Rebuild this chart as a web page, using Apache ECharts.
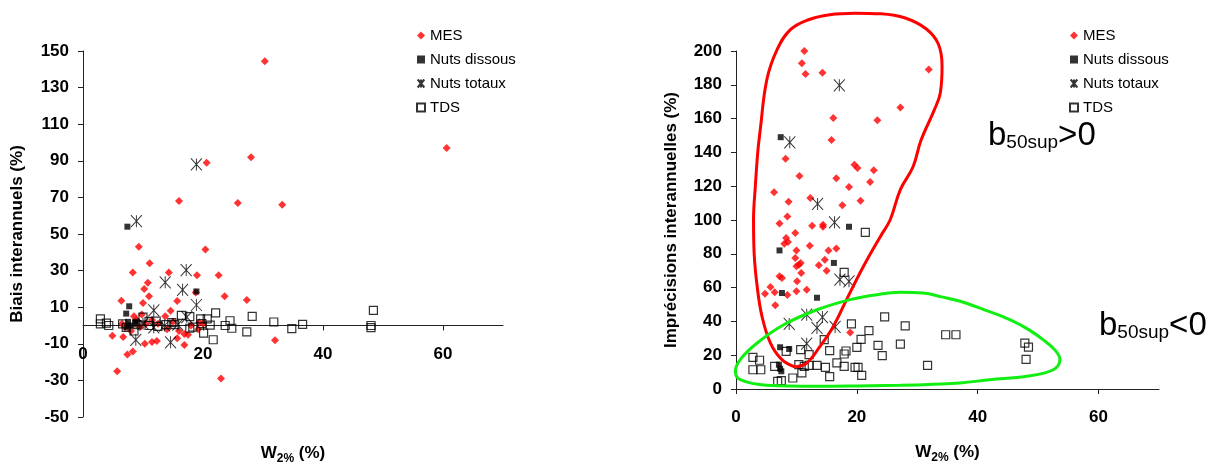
<!DOCTYPE html>
<html><head><meta charset="utf-8">
<script src="https://cdn.jsdelivr.net/npm/echarts@6/dist/echarts.min.js"></script>
<style>html,body{margin:0;padding:0;background:#fff}#c{width:1222px;height:464px}</style>
</head><body><div id="c"></div>
<script>
// ---------- DATA ----------
const legendNames = ['MES', 'Nuts dissous', 'Nuts totaux', 'TDS'];
const xTicks = [0, 20, 40, 60];
const yTicksBiais = [-50, -30, -10, 10, 30, 50, 70, 90, 110, 130, 150];
const yTicksImp = [0, 20, 40, 60, 80, 100, 120, 140, 160, 180, 200];

// Left chart: Biais interannuels (%) vs W2% (%)
const biaisMES = [[30.3,144.4],[20.6,89],[28,92],[60.6,97],[16,68],[25.8,67],[33.2,66],[9.3,43],[20.4,41.5],[11.1,34],
  [8.3,29],[14.3,29],[19,27.5],[22.6,27.5],[10.8,23.3],[10.2,20],[11,16],[23.6,16],[27.3,14],[6.4,13.5],[10,12.3],
  [15.7,13.4],[14.6,8],[18.8,18],[13.7,5],[4.9,-5.6],[6.7,-6.3],[11.5,-9],[12.3,-8.5],[10.3,-10],[16.9,-10.6],
  [7.4,-15.8],[8.3,-14.2],[5.7,-25],[23,-29],[32,-8],[15.7,-7],[20,1],[19.2,-2],[6.5,1],[7,-1],[8.5,5],[8.9,3],
  [9.5,-1],[10.5,1],[12.5,1],[15,2],[16,-3],[18,0],[17.5,-5],[14,-2],[11.5,3],[8,-3],[9.8,6],[19.4,1.8],[16.9,-4.6]];
const biaisNutsDissous = [[7.4,54],[18.9,18.6],[7.7,10.5],[7.2,6.5],[7.5,2],[8.7,2],[7.9,0],[7.3,-1],[9,1]];
const biaisNutsTotaux = [[8.9,57],[18.9,88],[17.2,30.3],[13.7,23.6],[16.6,19.5],[18.9,11.2],[11.8,8.2],[8.8,-7.8],
  [14.6,-9.2],[17.3,4.6],[13.6,0],[11.8,-1],[15.8,0.5],[10,1]];
const biaisTDS = [[2.9,3.6],[2.9,0.9],[3.9,1.3],[4.3,0],[6.6,0.9],[7.2,-1],[8.5,-3],[10,4.6],[11,2.2],[11,0],[12.2,2.4],
  [13.8,0.5],[14.8,1.6],[15.3,0.5],[16.4,5.5],[17.8,4.9],[18.3,-0.9],[17.8,-1.5],[19.6,3.6],[20.1,-4.2],[20.7,3.6],
  [21.7,-7.8],[22.1,6.9],[21.2,0.2],[19.8,1],[23.7,0],[24.5,2.6],[24.8,-1.5],[27.3,-3.5],[28.2,5],[31.8,1.9],
  [34.8,-1.7],[36.6,0.6],[48,0],[48,-1.2],[48.4,8.3],[9,0.5],[12.5,-0.5]];

// Right chart: Imprécisions interannuelles (%) vs W2% (%)
const impMES = [[11.3,200],[10.9,192.7],[11.5,186.4],[14.3,187.2],[31.9,189],[27.2,166.5],[23.4,159],[16.1,160.4],
  [15.8,147.3],[8.2,136.3],[19.6,132.7],[20.1,130.8],[22.8,129.4],[10.5,126],[16.6,124.7],[22.2,122.5],[18.7,119.5],
  [6.3,116.4],[8.7,110.8],[20.6,111.4],[17.6,108.7],[12.3,113],[7.2,98],[8.5,102],[12.6,96.6],[14.4,97.2],[14.4,96],
  [9.8,92.3],[8.3,89.3],[8,86],[8.6,87],[12.2,84.8],[10,82],[15.3,82],[16.6,83.2],[9.8,77.5],[14.7,76.5],[10,72.6],
  [10.7,74.6],[10.4,73.5],[13.7,73.2],[15,70],[7.2,66.7],[7.6,65.7],[10.8,68.6],[10.1,63.7],[4.8,56.4],[5.7,60.4],
  [6.4,57.2],[8.5,55.6],[10,57.8],[11.7,58.8],[6.5,49.5],[18.9,33.5]];
const impNutsDissous = [[7.4,149],[18.7,96],[7.2,82],[16.2,74.6],[7.6,56.8],[13.4,54],[7.3,24.7],[8.8,23.7],
  [7.1,14.4],[7.5,10.5],[7.3,12]];
const impNutsTotaux = [[17.1,179.7],[8.9,146],[13.5,109.5],[16.3,98.6],[17.2,64.7],[18.7,63.7],[8.8,38.5],[11.7,44],
  [14.3,42.6],[13.4,36.1],[16.4,36.7],[11.7,26.8]];
const impTDS = [[21.4,92.7],[17.9,69],[19.1,38.5],[24.6,42.7],[28,37.4],[27.2,26.6],[24.2,19.7],[23.5,25.8],[22,34.6],
  [20.7,29.4],[20,24.6],[18.2,22.5],[17.9,20.7],[15.5,22.7],[14.6,29.2],[12.1,20.3],[10.7,23.3],[8.3,22.3],[2.8,18.7],
  [3.9,17],[2.8,11.4],[4.1,11.4],[6.4,13.4],[6.9,4.5],[7.5,4.9],[9.4,6.5],[10.4,14.4],[11.3,13.4],[10.9,9.5],[12.1,14],
  [13.4,14],[14.8,12.8],[15.5,7.3],[16.7,15.4],[17.9,13.4],[19.7,12.8],[20.2,12.8],[20.8,8.1],[31.7,14],[34.7,32.1],
  [36.4,32.1],[47.8,27.2],[48.4,24.8],[48,17.5]];

// Annotation outlines (in data units of the right chart)
const redLoop = [[9.8,13],[7.6,17.4],[5.7,27.2],[4.3,43],[3.5,60.7],[3,80.5],[2.9,100],[3.2,120],[3.6,140],[4,153],
  [5.1,183],[6.8,200.8],[9,212.6],[12,218.5],[15.5,221.5],[19.7,222.4],[24,222],[28,219.5],[31.5,213],[33.5,204],
  [34.1,191],[33.8,175],[32.8,165],[30.6,147],[29.3,131.5],[27.2,118],[25.5,100],[23.9,90.3],[21.1,72.6],[18.3,52.9],
  [16.1,37],[13.9,25.2],[11.7,15.4],[9.8,13]];
const greenLoop = [[27.2,2.2],[20,1.8],[13.4,1.6],[5.1,2.2],[0.7,5.5],[-0.1,10.5],[0.7,17.4],[3.5,27.2],[7.9,38],
  [13.4,46.9],[18.9,52.9],[23.3,55.8],[27.2,57.2],[31,56.8],[34,54.5],[37.1,51.9],[41,47],[45.3,41],[48.5,35],
  [50.8,29.2],[52.8,23],[53.6,17.4],[52.5,11.4],[48.1,7.5],[42,5.5],[37.1,3.6],[27.2,2.2]];

// ---------- CHART ----------
const FONT = "'Liberation Sans', Arial, sans-serif";
const starPath = 'path://M0,0L10,12M10,0L0,12M5,0L5,12';
const styles = {
  'MES': {symbol: 'diamond', symbolSize: 8, itemStyle: {color: '#ff0000'}},
  'Nuts dissous': {symbol: 'rect', symbolSize: 6, itemStyle: {color: '#000'}},
  'Nuts totaux': {symbol: starPath, symbolSize: [11, 12], itemStyle: {color: 'rgba(0,0,0,0)', borderColor: '#000', borderWidth: 1}},
  'TDS': {symbol: 'rect', symbolSize: 8, itemStyle: {color: 'rgba(0,0,0,0)', borderColor: '#000', borderWidth: 1.2}}
};
function sc(name, data, idx) {
  const s = styles[name];
  return {type: 'scatter', name, data, xAxisIndex: idx, yAxisIndex: idx, symbol: s.symbol,
    symbolSize: s.symbolSize, itemStyle: s.itemStyle, emphasis: {disabled: true}, animation: false};
}
const axisLineStyle = {lineStyle: {color: '#222', width: 1}};
const tickLabel = {fontFamily: FONT, fontWeight: 'bold', fontSize: 17, color: '#000'};
// Left grid geometry: y range [-50,150] over a 366 px tall grid -> zero line lies 50/200 of the height above the bottom
const LEFT_GRID_H = 366;
const leftZeroOffset = -LEFT_GRID_H * (0 - (-50)) / (150 - (-50));
function xAxis(idx, gap, offset) {
  return {type: 'value', gridIndex: idx, min: 0, max: 70, interval: 20, offset,
    axisLine: {onZero: false, ...axisLineStyle}, splitLine: {show: false},
    axisTick: {show: true, length: 5, customValues: xTicks, lineStyle: {color: '#222'}},
    axisLabel: {...tickLabel, margin: 20, customValues: xTicks},
    name: '{a|W}{b|2%}{a| (%)}', nameLocation: 'middle', nameGap: gap,
    nameTextStyle: {rich: {
      a: {fontFamily: FONT, fontWeight: 'bold', fontSize: 17, lineHeight: 17, verticalAlign: 'top', color: '#000'},
      b: {fontFamily: FONT, fontWeight: 'bold', fontSize: 12, lineHeight: 12, padding: [8, 0, 0, 0], verticalAlign: 'top', color: '#000'}
    }}};
}
function yAxis(idx, min, max, ticks, name, gap) {
  return {type: 'value', gridIndex: idx, min, max,
    axisLine: {show: true, onZero: false, ...axisLineStyle}, splitLine: {show: false},
    axisTick: {show: true, length: 5, customValues: ticks, lineStyle: {color: '#222'}},
    axisLabel: {...tickLabel, margin: 14, customValues: ticks},
    name, nameLocation: 'middle', nameGap: gap,
    nameTextStyle: {fontFamily: FONT, fontWeight: 'bold', fontSize: 17, color: '#000'}};
}
function legend(left) {
  return {data: legendNames, left, top: 23, orient: 'vertical', itemWidth: 8, itemHeight: 8, itemGap: 9,
    selectedMode: false, textStyle: {fontFamily: FONT, fontSize: 15, lineHeight: 15, color: '#000'}};
}
function loop(name, data, color) {
  return {type: 'line', name, data, xAxisIndex: 1, yAxisIndex: 1, smooth: 0.4, symbol: 'none', clip: false,
    lineStyle: {color, width: 3}, silent: true, animation: false, z: 5};
}
const chart = echarts.init(document.getElementById('c'), null, {renderer: 'canvas'});
chart.setOption({
  backgroundColor: '#fff',
  animation: false,
  grid: [
    {left: 83, top: 51, width: 420, height: LEFT_GRID_H, containLabel: false, outerBoundsMode: 'none'},
    {left: 736, top: 51, width: 423, height: 338, containLabel: false, outerBoundsMode: 'none'}
  ],
  xAxis: [xAxis(0, 119, leftZeroOffset), xAxis(1, 55, 0)],
  yAxis: [
    yAxis(0, -50, 150, yTicksBiais, 'Biais interannuels (%)', 57),
    yAxis(1, 0, 200, yTicksImp, 'Imprécisions interannuelles (%)', 56)
  ],
  legend: [legend(411), legend(1064)],
  graphic: [
    {type: 'text', x: 988, y: 152, style: {text: '{b|b}{s|50sup}{b|>0}', verticalAlign: 'bottom',
      rich: {b: {fontFamily: FONT, fontSize: 33, lineHeight: 33, verticalAlign: 'bottom', fill: '#000'},
             s: {fontFamily: FONT, fontSize: 19, lineHeight: 19, verticalAlign: 'bottom', fill: '#000'}}}},
    {type: 'text', x: 1099, y: 342, style: {text: '{b|b}{s|50sup}{b|<0}', verticalAlign: 'bottom',
      rich: {b: {fontFamily: FONT, fontSize: 33, lineHeight: 33, verticalAlign: 'bottom', fill: '#000'},
             s: {fontFamily: FONT, fontSize: 19, lineHeight: 19, verticalAlign: 'bottom', fill: '#000'}}}}
  ],
  series: [
    sc('MES', biaisMES, 0), sc('Nuts dissous', biaisNutsDissous, 0), sc('Nuts totaux', biaisNutsTotaux, 0), sc('TDS', biaisTDS, 0),
    sc('MES', impMES, 1), sc('Nuts dissous', impNutsDissous, 1), sc('Nuts totaux', impNutsTotaux, 1), sc('TDS', impTDS, 1),
    loop('redLoop', redLoop, '#ff0000'), loop('greenLoop', greenLoop, '#11ee11')
  ]
});
</script></body></html>
